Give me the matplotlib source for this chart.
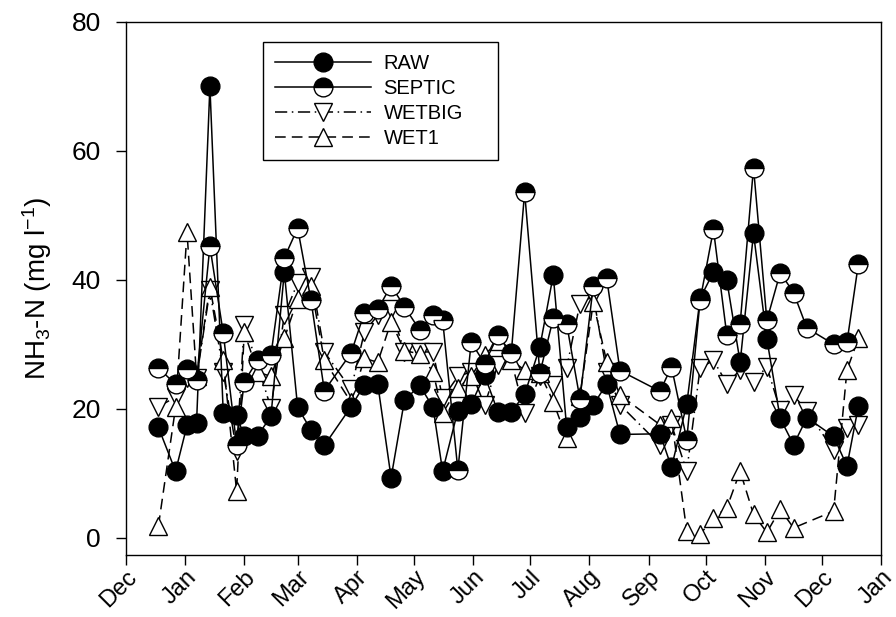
import numpy as np
import matplotlib
matplotlib.use("Agg")
import matplotlib.pyplot as plt
import matplotlib.dates as mdates

plt.rcParams['font.family'] = ['Liberation Sans', 'DejaVu Sans']
plt.rcParams['mathtext.default'] = 'regular'

# --- Data ---
dates = ["2001-12-18", "2001-12-27", "2002-01-02", "2002-01-07", "2002-01-14",
         "2002-01-21", "2002-01-28", "2002-02-01", "2002-02-08", "2002-02-15",
         "2002-02-22", "2002-03-01", "2002-03-08", "2002-03-15", "2002-03-29",
         "2002-04-05", "2002-04-12", "2002-04-19", "2002-04-26", "2002-05-04",
         "2002-05-11", "2002-05-16", "2002-05-24", "2002-05-31", "2002-06-07",
         "2002-06-14", "2002-06-21", "2002-06-28", "2002-07-06", "2002-07-13",
         "2002-07-20", "2002-07-27", "2002-08-03", "2002-08-10", "2002-08-17",
         "2002-09-07", "2002-09-13", "2002-09-21", "2002-09-28", "2002-10-05",
         "2002-10-12", "2002-10-19", "2002-10-26", "2002-11-02", "2002-11-09",
         "2002-11-16", "2002-11-23", "2002-12-07", "2002-12-14", "2002-12-20"]

raw = [17.1, 10.3, 17.4, 17.8, 70.0, 19.3, 19.0, 15.7, 15.8, 18.8,
       41.2, 20.2, 16.7, 14.3, 20.3, 23.7, 23.8, 9.3, 21.3, 23.6,
       20.2, 10.3, 19.7, 20.7, 25.2, 19.5, 19.5, 22.2, 29.6, 40.7,
       17.2, 18.7, 20.6, 23.8, 16.0, 16.1, 10.9, 20.7, 37.1, 41.2,
       39.9, 27.2, 47.2, 30.8, 18.5, 14.4, 18.6, 15.7, 11.1, 20.4]

septic = [26.3, 23.8, 26.1, 24.5, 45.2, 31.7, 14.4, 24.2, 27.5, 28.3,
          43.4, 48.0, 36.8, 22.8, 28.6, 34.9, 35.4, 39.1, 35.8, 32.2,
          34.5, 33.8, 10.5, 30.3, 27.0, 31.4, 28.6, 53.6, 25.5, 34.0,
          33.2, 21.5, 39.1, 40.3, 25.9, 22.7, 26.5, 15.2, 36.8, 47.8,
          31.4, 33.2, 57.4, 33.7, 41.1, 38.0, 32.5, 30.0, 30.3, 42.5]

wetbig = [20.3, 21.8, 24.7, 24.7, 38.4, 25.7, 13.5, 33.0, 26.8, 20.1,
          34.5, 39.5, 40.5, 28.8, 23.0, 31.9, 34.5, 35.5, 28.8, 28.8,
          28.8, 21.6, 25.0, 25.7, 20.6, 26.8, 27.5, 19.3, 25.0, 23.7,
          26.3, 36.3, 37.5, 25.7, 20.6, 14.4, 17.5, 10.3, 26.3, 27.5,
          23.9, 26.0, 24.2, 26.5, 19.8, 22.1, 19.6, 13.6, 17.0, 17.5]

wet1 = [1.8, 20.2, 47.4, 25.0, 38.9, 27.5, 7.2, 31.9, 25.7, 25.0,
        30.9, 37.0, 39.0, 27.5, 21.0, 27.8, 27.2, 33.5, 29.0, 28.5,
        25.7, 19.3, 23.2, 25.0, 28.3, 30.5, 27.5, 26.0, 25.5, 21.1,
        15.4, 22.0, 36.5, 27.3, 22.1, 17.5, 18.5, 1.0, 0.5, 3.1,
        4.6, 10.3, 3.6, 0.8, 4.4, 1.5, np.nan, 4.1, 26.0, 30.9]

t = np.array(dates, dtype="datetime64[D]")

fig = plt.figure(figsize=(8.96, 6.17), dpi=100)
ax = fig.add_axes([0.1406, 0.1005, 0.843, 0.864])

ms_c = 13.5
ms_t = 13

def draw(y, **kw):
    # skip missing samples so the line joins the neighbouring points
    y = np.asarray(y, dtype=float)
    ok = ~np.isnan(y)
    return ax.plot(t[ok], y[ok], color="black", lw=1.1, **kw)[0]

h1 = draw(raw, marker="o", ms=ms_c, mfc="black", mec="black", mew=1.0, label="RAW", zorder=3)
h2 = draw(septic, marker="o", ms=ms_c, fillstyle="top", mfc="black",
          mfcalt="white", mec="black", mew=1.0, label="SEPTIC", zorder=3)
h3 = draw(wetbig, marker="v", ms=ms_t, mfc="white", mec="black", mew=1.0,
          dashes=[8, 3, 1, 3], label="WETBIG", zorder=2)
h4 = draw(wet1, marker="^", ms=ms_t, mfc="white", mec="black", mew=1.0,
          dashes=[7, 4], label="WET1", zorder=2)

ax.set_xlim(np.datetime64("2001-12-01"), np.datetime64("2003-01-01"))
ax.set_ylim(-2.7, 80)
ax.set_yticks([0, 20, 40, 60, 80])
ax.xaxis.set_major_locator(mdates.MonthLocator())
ax.xaxis.set_major_formatter(mdates.DateFormatter("%b"))
ax.tick_params(axis="both", direction="out", length=7, width=1)
ax.tick_params(axis="y", labelsize=19, pad=11)
ax.tick_params(axis="x", labelsize=17, pad=1)
for lab in ax.get_xticklabels():
    lab.set_rotation(45)
    lab.set_ha("right")
    lab.set_rotation_mode("anchor")

for s in ax.spines.values():
    s.set_linewidth(1.0)

ax.set_ylabel(r"NH$_3$-N (mg l$^{-1}$)", fontsize=20, labelpad=13)

leg = ax.legend(handles=[h1, h2, h3, h4], loc="upper left",
                bbox_to_anchor=(0.181, 0.742, 0.312, 0.221), mode="expand",
                fontsize=14.5, frameon=True,
                fancybox=False, edgecolor="black", framealpha=1,
                handlelength=4.8, handletextpad=0.6, labelspacing=0.3,
                borderpad=0.6, borderaxespad=0, numpoints=1)
leg.get_frame().set_linewidth(1.0)

fig.savefig("out.png", dpi=100)
